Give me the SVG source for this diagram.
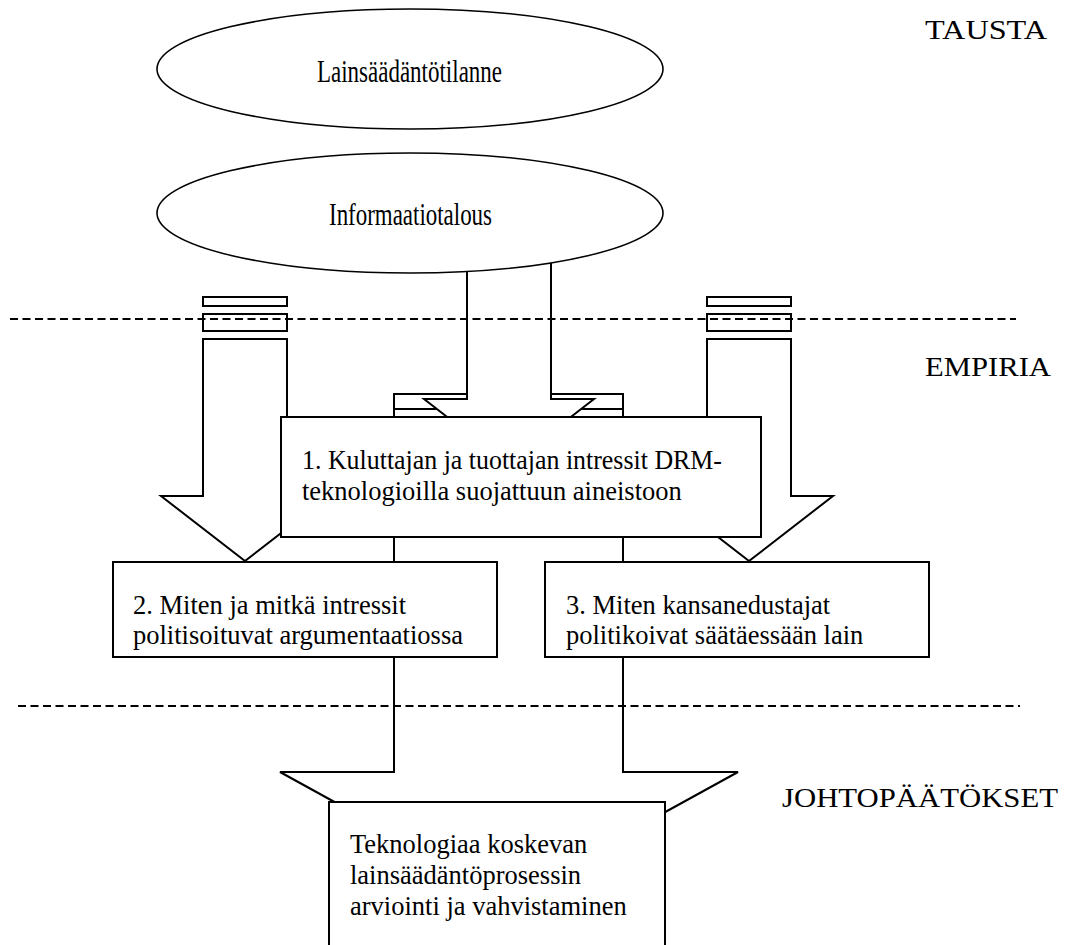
<svg xmlns="http://www.w3.org/2000/svg" width="1077" height="945" viewBox="0 0 1077 945">
  <style>
    .sh { fill: #fff; stroke: #000; stroke-width: 2; stroke-linejoin: miter; }
    .el { fill: #fff; stroke: #000; stroke-width: 1.6; }
    .dash { fill: none; stroke: #000; stroke-width: 2; stroke-dasharray: 8 4.5; }
    .t { font-family: "Liberation Serif", "Times New Roman", serif; font-size: 26.5px; fill: #000; }
    .big { font-family: "Liberation Serif", "Times New Roman", serif; font-size: 32px; fill: #000; }
    .lab { font-family: "Liberation Serif", "Times New Roman", serif; font-size: 28px; fill: #000; }
  </style>
  <rect width="1077" height="945" fill="#fff"/>

  <g id="connectors">
    <!-- big arrow towards conclusions -->
    <rect class="sh" x="394" y="394" width="229" height="15"/>
    <polygon class="sh" points="394,409 623,409 623,772 738,772 509,898 280,772 394,772"/>
    <!-- centre arrow from Informaatiotalous -->
    <polygon class="sh" points="467,250 551,250 551,399 594,399 509,465 424,399 467,399"/>
    <!-- left side arrow -->
    <rect class="sh" x="203" y="297" width="84" height="9"/>
    <rect class="sh" x="203" y="314" width="84" height="17"/>
    <polygon class="sh" points="203,339 287,339 287,496 329,496 245,561 161,496 203,496"/>
    <!-- right side arrow -->
    <rect class="sh" x="707" y="297" width="84" height="9"/>
    <rect class="sh" x="707" y="314" width="84" height="17"/>
    <polygon class="sh" points="707,339 791,339 791,496 833,496 749,561 665,496 707,496"/>
  </g>

  <g id="node-lainsaadantotilanne">
    <ellipse class="el" cx="410" cy="69" rx="253" ry="60"/>
    <text class="big" x="317" y="82" textLength="185" lengthAdjust="spacingAndGlyphs">Lainsäädäntötilanne</text>
  </g>

  <g id="node-informaatiotalous">
    <ellipse class="el" cx="410" cy="213" rx="253" ry="60"/>
    <text class="big" x="329" y="225" textLength="163" lengthAdjust="spacingAndGlyphs">Informaatiotalous</text>
  </g>

  <g id="node-box1">
    <rect class="sh" x="281" y="417" width="480" height="120"/>
    <text class="t" x="302" y="469" textLength="420" lengthAdjust="spacingAndGlyphs">1. Kuluttajan ja tuottajan intressit DRM-</text>
    <text class="t" x="302" y="500">teknologioilla suojattuun aineistoon</text>
  </g>

  <g id="node-box2">
    <rect class="sh" x="113" y="562" width="384" height="95"/>
    <text class="t" x="133" y="614">2. Miten ja mitkä intressit</text>
    <text class="t" x="133" y="644">politisoituvat argumentaatiossa</text>
  </g>

  <g id="node-box3">
    <rect class="sh" x="545" y="562" width="384" height="95"/>
    <text class="t" x="566" y="614">3. Miten kansanedustajat</text>
    <text class="t" x="566" y="644">politikoivat säätäessään lain</text>
  </g>

  <g id="node-box4">
    <rect class="sh" x="329" y="802" width="336" height="160"/>
    <text class="t" x="350" y="853">Teknologiaa koskevan</text>
    <text class="t" x="350" y="884">lainsäädäntöprosessin</text>
    <text class="t" x="350" y="915">arviointi ja vahvistaminen</text>
  </g>

  <g id="separators">
    <line class="dash" x1="10" y1="319" x2="1016" y2="319"/>
    <line class="dash" x1="18" y1="706" x2="1020" y2="706"/>
  </g>

  <g id="labels">
    <text class="lab" x="925" y="39" textLength="122" lengthAdjust="spacingAndGlyphs">TAUSTA</text>
    <text class="lab" x="925" y="376" textLength="126" lengthAdjust="spacingAndGlyphs">EMPIRIA</text>
    <text class="lab" x="782" y="807" textLength="276" lengthAdjust="spacingAndGlyphs">JOHTOPÄÄTÖKSET</text>
  </g>
</svg>
